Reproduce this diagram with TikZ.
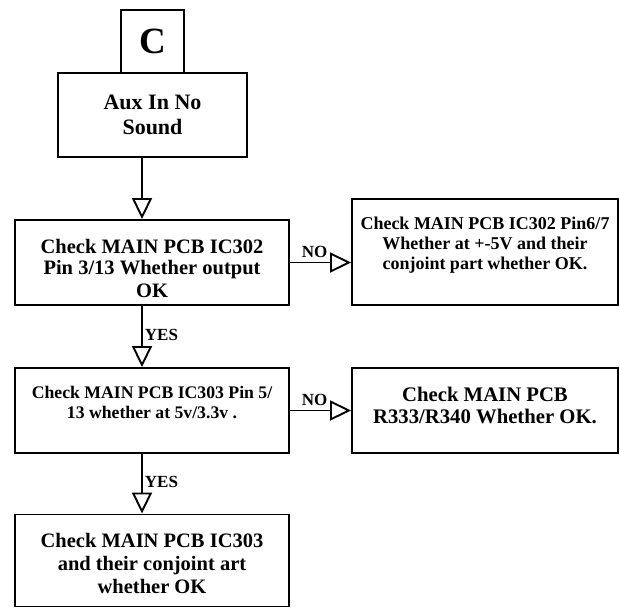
\documentclass[tikz,border=0pt]{standalone}
\usepackage{fontspec}
\setmainfont{Liberation Serif}
\usetikzlibrary{arrows.meta,positioning,calc}
\newcommand{\fsz}[2]{\fontsize{#1}{#2}\selectfont}
\tikzset{
box/.style={draw, line width=1.9pt, rectangle, inner sep=0pt},
txt/.style={align=center, inner sep=0pt},
arr/.style={-{Triangle[open,length=21pt,width=20pt]}, line width=1.9pt},
answer/.style={font=\bfseries\fsz{17}{17}, inner sep=0pt},
}

\begin{document}
\begin{tikzpicture}[x=1pt, y=-1pt]
        \useasboundingbox (0,0) rectangle (620,608);
        \coordinate (X) at (142,0);

        % boxes
        \node[box, minimum width=63pt, minimum height=63pt] (C) at (152.5,41.5) {};
        \node[box, minimum width=189pt, minimum height=84pt] (A) at (152.5,115) {};
        \node[box, minimum width=274pt, minimum height=85pt] (B1) at (152,262.5) {};
        \node[box, minimum width=266pt, minimum height=106pt] (N1) at (485,252) {};
        \node[box, minimum width=274pt, minimum height=85pt] (B2) at (152,410.5) {};
        \node[box, minimum width=266pt, minimum height=85pt] (N2) at (485,410.5) {};
        \node[box, minimum width=274pt, minimum height=92pt] (B3) at (152,560.5) {};

        % texts
        \node[txt, font=\bfseries\fsz{37}{37}] (tC) at (C) {C};
        \node[txt, font=\bfseries\fsz{22}{25.5}] (tA) at (A) {Aux In No\\Sound};
        \node[txt, font=\bfseries\fsz{20.5}{21.5}] (tB1) at ($(B1)+(0,6)$)
            {Check MAIN PCB IC302\\ Pin 3/13 Whether output\\[1.5pt]OK};
        \node[txt, font=\bfseries\fsz{18}{20}] (tN1) at ($(N1)+(0,-6.5)$)
            {Check MAIN PCB IC302 Pin6/7\\Whether at +-5V and their\\conjoint part whether OK.};
        \node[txt, font=\bfseries\fsz{17.7}{20}] (tB2) at ($(B2)+(0,-8.5)$)
            {Check MAIN PCB IC303 Pin 5/\\13 whether at 5v/3.3v .};
        \node[txt, font=\bfseries\fsz{20.7}{22}] (tN2) at ($(N2)+(0,-5.5)$)
            {Check MAIN PCB\\R333/R340 Whether OK.};
        \node[txt, font=\bfseries\fsz{20.5}{23}] (tB3) at ($(B3)+(0,2.5)$)
            {Check MAIN PCB IC303\\and their conjoint art\\whether OK};

        % connectors
        \draw[arr] (A.south -| X) -- (B1.north -| X);
        \draw[arr] (B1.south -| X) -- (B2.north -| X)
            node[answer, pos=1, anchor=south west, xshift=2pt, yshift=25pt] (y1) {YES};
        \draw[arr] (B2.south -| X) -- (B3.north -| X)
            node[answer, pos=1, anchor=south west, xshift=2pt, yshift=25pt] (y2) {YES};
        \draw[arr] (B1.east) -- (B1.east -| N1.west)
            node[answer, pos=0, anchor=south west, xshift=11pt, yshift=4pt] (n1) {NO};
        \draw[arr] (B2.east) -- (B2.east -| N2.west)
            node[answer, pos=0, anchor=south west, xshift=11pt, yshift=4pt] (n2) {NO};
\end{tikzpicture}
\end{document}
